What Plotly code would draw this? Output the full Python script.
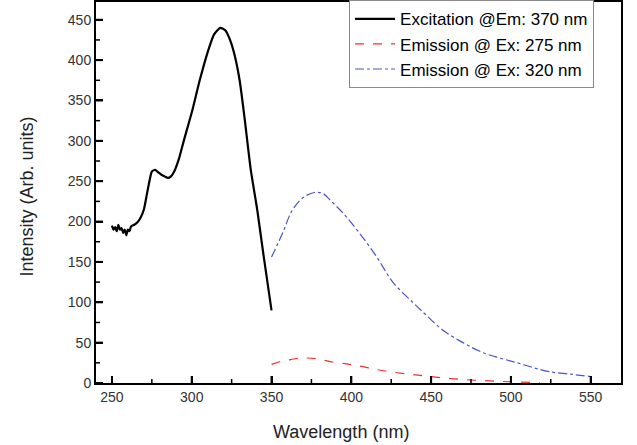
import plotly.graph_objects as go

# Excitation @Em: 370 nm
exc_wl = [250, 251, 252, 253, 254, 255, 256, 257, 258, 259, 260, 261, 262, 264, 266, 268, 270, 272, 274,
          275, 277, 279, 281, 283, 285, 287, 289, 292, 295, 300, 305, 310, 314, 318, 321, 324, 327, 330,
          333, 337, 341, 345, 350]
exc_int = [195, 190, 193, 188, 196, 190, 192, 186, 190, 183, 190, 188, 194, 196, 199, 205, 215, 235, 255,
           262, 264, 261, 258, 256, 254, 256, 262, 278, 300, 335, 375, 410, 432, 440, 437, 425, 405, 375,
           330, 264, 215, 158, 90]

# Emission @ Ex: 275 nm (red dashed)
em275_wl = [350, 356, 362, 368, 372, 378, 388, 396, 405, 415, 424, 436, 449, 465, 482, 500, 518]
em275_int = [23, 27, 29, 31, 31, 30, 26, 24, 21, 17, 14, 11, 8, 5, 3, 1.5, 0.5]

# Emission @ Ex: 320 nm (blue dash-dot)
em320_wl = [350, 357, 363, 370, 377, 382, 387, 395, 405, 416, 426, 439, 447, 457, 470, 482, 493, 504,
            514, 524, 537, 550]
em320_int = [156, 186, 214, 230, 236, 235, 226, 210, 186, 156, 125, 99, 84, 66, 50, 38, 31, 25,
             19, 14, 11, 8]

x_major = [250, 300, 350, 400, 450, 500, 550]
x_minor = [275, 325, 375, 425, 475, 525]
y_major = [0, 50, 100, 150, 200, 250, 300, 350, 400, 450]
y_minor = [25, 75, 125, 175, 225, 275, 325, 375, 425]
X_RANGE = [240, 569]
Y_RANGE = [0, 472]

FONT = "Liberation Sans, Arial"

fig = go.Figure()
fig.add_trace(go.Scatter(x=exc_wl, y=exc_int, mode="lines", name="Excitation @Em: 370 nm",
                         line=dict(color="black", width=2.2, shape="spline", smoothing=0.6)))
fig.add_trace(go.Scatter(x=em275_wl, y=em275_int, mode="lines", name="Emission @ Ex: 275 nm",
                         line=dict(color="#e8352b", width=1.2, dash="dash", shape="spline")))
fig.add_trace(go.Scatter(x=em320_wl, y=em320_int, mode="lines", name="Emission @ Ex: 320 nm",
                         line=dict(color="#4a55c0", width=1.2, dash="dashdot", shape="spline")))

# tick marks drawn as pixel-sized shapes anchored at the axis tick values
tick_shapes = []
for v, ln, w in [(t, 7, 2) for t in x_major] + [(t, 4, 1.5) for t in x_minor]:
    tick_shapes.append(dict(type="line", xref="x", yref="paper", ysizemode="pixel", yanchor=0,
                            x0=v, x1=v, y0=0, y1=ln, line=dict(color="black", width=w), layer="above"))
for v, ln, w in [(t, 7, 2) for t in y_major] + [(t, 4, 1.5) for t in y_minor]:
    tick_shapes.append(dict(type="line", xref="paper", yref="y", xsizemode="pixel", xanchor=0,
                            y0=v, y1=v, x0=0, x1=ln, line=dict(color="black", width=w), layer="above"))

fig.update_layout(
    xaxis=dict(range=X_RANGE, tickmode="array", tickvals=x_major,
               showline=True, linecolor="black", linewidth=2, mirror=True,
               ticks="inside", ticklen=7, tickwidth=2, tickcolor="black",
               showgrid=False, zeroline=False,
               tickfont=dict(family=FONT, size=14, color="#333")),
    yaxis=dict(range=Y_RANGE, tickmode="array", tickvals=y_major,
               showline=True, linecolor="black", linewidth=2, mirror=True,
               ticks="inside", ticklen=7, tickwidth=2, tickcolor="black",
               showgrid=False, zeroline=False,
               tickfont=dict(family=FONT, size=14, color="#333")),
    shapes=tick_shapes,
    width=637, height=445,
    margin=dict(l=96, r=16, t=1, b=62),
    plot_bgcolor="white", paper_bgcolor="white",
    legend=dict(x=0.482, y=1.002, xanchor="left", yanchor="top",
                bgcolor="white", bordercolor="#888", borderwidth=1,
                font=dict(family=FONT, size=17, color="black"),
                tracegroupgap=0, itemwidth=40),
    showlegend=True,
    annotations=[
        dict(text="Wavelength (nm)", xref="paper", yref="paper", x=(341 - 96) / 525, y=-(432 - 383) / 382,
             xanchor="center", yanchor="middle", showarrow=False,
             font=dict(family=FONT, size=18, color="#222")),
        dict(text="Intensity (Arb. units)", xref="paper", yref="paper", x=-(96 - 27) / 525, y=(383 - 196) / 382,
             xanchor="center", yanchor="middle", showarrow=False, textangle=-90,
             font=dict(family=FONT, size=18, color="#222")),
    ],
)

fig.write_html("out.html")
